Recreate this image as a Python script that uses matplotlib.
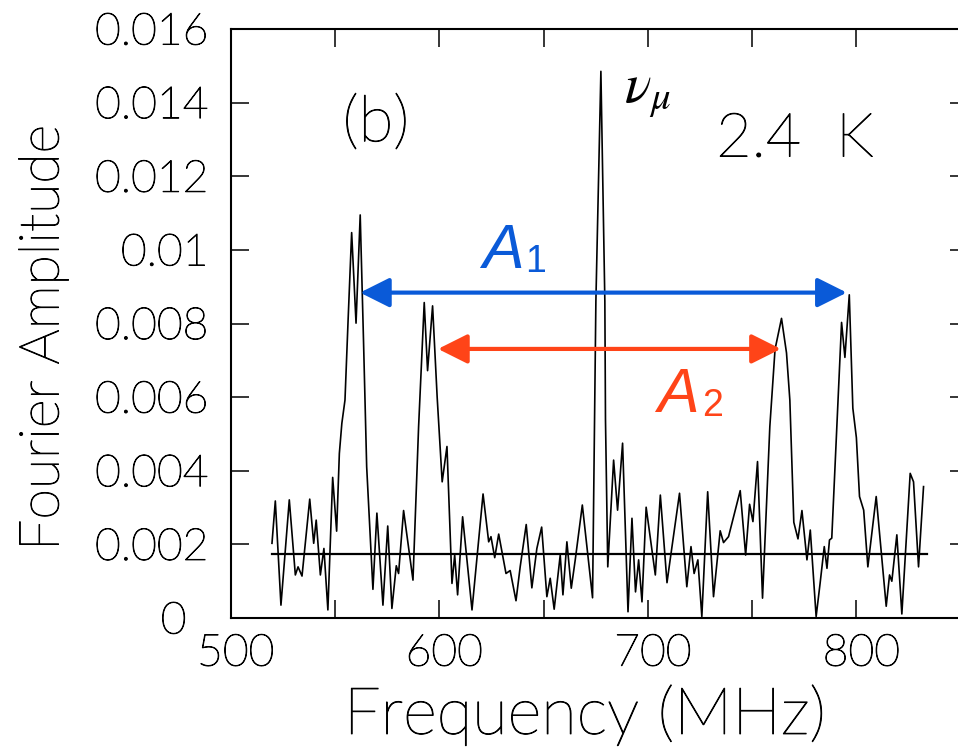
import matplotlib
matplotlib.use('Agg')
import matplotlib.pyplot as plt
import matplotlib.patheffects as pe
import matplotlib.transforms as mtrans
import numpy as np

# spectrum: frequency (MHz), amplitude (x 1e-3)
freq = [519.8, 521.4, 524.1, 528.1, 531.0, 532.3, 534.2, 537.9, 539.8, 541.0,
        543.0, 544.7, 546.6, 548.9, 550.8, 552.1, 553.3, 554.8, 556.3, 558.0,
        560.1, 562.1, 563.7, 565.2, 568.2, 570.1, 573.0, 575.3, 577.3, 579.4,
        580.5, 582.9, 587.4, 590.1, 592.8, 594.4, 596.8, 599.0, 601.4, 603.7,
        606.1, 607.4, 608.8, 611.2, 615.7, 621.0, 623.7, 624.8, 626.6, 628.5,
        632.0, 634.0, 636.8, 638.8, 641.7, 644.4, 646.8, 649.1, 651.6, 653.2,
        655.1, 658.0, 659.3, 661.2, 663.3, 665.2, 668.6, 673.5, 675.1, 677.5,
        679.4, 679.7, 680.8, 683.6, 685.5, 687.9, 690.5, 692.4, 694.1, 695.6,
        697.2, 699.2, 702.0, 703.6, 706.0, 709.2, 710.7, 715.2, 718.7, 720.7,
        722.2, 724.0, 725.9, 728.7, 731.5, 734.7, 736.3, 738.7, 744.3, 746.9,
        748.8, 750.4, 752.6, 755.0, 758.5, 761.0, 764.1, 766.5, 768.1, 770.0,
        772.0, 773.9, 776.3, 777.9, 780.7, 782.6, 784.6, 785.9, 787.1, 788.2,
        790.5, 792.9, 794.5, 796.6, 798.3, 800.0, 801.5, 803.5, 805.5, 809.5,
        814.3, 815.9, 817.0, 819.4, 821.8, 825.8, 827.4, 829.8, 832.2]
amp_m = [2.03, 3.18, 0.35, 3.21, 1.17, 1.39, 1.14, 3.23, 2.03, 2.66,
         1.17, 1.89, 0.22, 3.82, 2.36, 4.47, 5.29, 5.92, 8.10, 10.47,
         8.01, 10.95, 7.50, 4.11, 0.78, 2.85, 0.35, 2.50, 0.26, 1.42,
         1.21, 2.92, 1.03, 5.20, 8.57, 6.72, 8.48, 6.00, 3.70, 4.66,
         0.94, 1.71, 0.63, 2.75, 0.22, 3.37, 2.07, 2.21, 1.64, 2.28,
         1.21, 1.29, 0.47, 1.39, 2.54, 0.82, 1.89, 2.47, 0.58, 1.08,
         0.24, 1.71, 0.63, 2.07, 0.81, 1.58, 3.07, 0.55, 8.60, 14.85,
         8.60, 5.40, 1.39, 4.29, 2.93, 4.75, 0.17, 2.71, 0.71, 1.58,
         0.44, 3.01, 1.85, 1.17, 3.34, 0.96, 1.58, 3.39, 0.85, 1.94,
         1.21, 1.58, 0.04, 3.43, 0.58, 2.37, 2.05, 2.21, 3.46, 1.71,
         3.09, 2.62, 4.25, 0.54, 5.20, 7.30, 8.14, 7.20, 5.92, 2.60,
         2.15, 2.92, 1.58, 2.39, 0.04, 0.94, 1.94, 1.35, 2.12, 2.17,
         5.02, 8.03, 7.08, 8.78, 5.70, 4.90, 3.30, 2.93, 1.39, 3.30,
         0.32, 1.17, 1.00, 2.26, 0.11, 3.93, 3.70, 1.39, 3.57]

base_level = 0.00174
base_range = [519.8, 833.8]

# splittings
a1_ends = [562.0, 795.4]
a1_level = 0.00884
a2_ends = [599.4, 763.8]
a2_level = 0.00731

xticks = [500, 600, 700, 800]
xminor = [550, 650, 750, 850]
yticks = [0, 0.002, 0.004, 0.006, 0.008, 0.01, 0.012, 0.014, 0.016]
ytick_labels = ['0', '0.002', '0.004', '0.006', '0.008', '0.01', '0.012', '0.014', '0.016']

blue = '#0a5ad8'
red = '#ff4418'

plt.rcParams['font.family'] = ['Lato', 'DejaVu Sans']
plt.rcParams['font.weight'] = 'light'
plt.rcParams['mathtext.fontset'] = 'stix'

fig = plt.figure(figsize=(9.58, 7.56), dpi=100)
ax = fig.add_axes([0.2408, 0.1825, 0.7696, 0.7791])

amp = np.array(amp_m) * 1e-3
ax.plot(freq, amp, color='k', lw=1.2)
ax.plot(base_range, [base_level, base_level], color='k', lw=1.6)

ax.set_xlim(500, 853.5)
ax.set_ylim(0, 0.016)
ax.set_xticks(xticks)
ax.set_xticks(xminor, minor=True)
ax.set_yticks(yticks)
ax.set_yticklabels(ytick_labels)

for s in ax.spines.values():
    s.set_linewidth(1.5)
ax.tick_params(which='both', direction='in', length=12.7, width=1.1,
               top=True, right=True)
ax.tick_params(axis='x', labelsize=32, pad=12)
ax.tick_params(axis='y', labelsize=32, pad=16)

dark = [pe.withStroke(linewidth=0.7, foreground='k')]
shift = mtrans.ScaledTranslation(5 / 100, 0, fig.dpi_scale_trans)
for lab in ax.get_xticklabels():
    lab.set_transform(lab.get_transform() + shift)
    lab.set_path_effects(dark)
for lab in ax.get_yticklabels():
    lab.set_path_effects(dark)
# the "0" sits a little left of the others, clear of "500"
zero = ax.get_yticklabels()[0]
zero.set_transform(zero.get_transform() +
                   mtrans.ScaledTranslation(-22 / 100, 0, fig.dpi_scale_trans))

fig.text(43 / 958, 1 - 338 / 756, 'Fourier Amplitude', rotation=90,
         ha='center', va='center', fontsize=40, path_effects=dark)
fig.text(585 / 958, 1 - 715 / 756, 'Frequency (MHz)',
         ha='center', va='center', fontsize=47, path_effects=dark)

# arrows
ax.annotate('', xy=(a1_ends[1], a1_level), xytext=(a1_ends[0], a1_level),
            arrowprops=dict(arrowstyle='<|-|>,head_length=0.9,head_width=0.45',
                            mutation_scale=20, color=blue, lw=3,
                            shrinkA=0, shrinkB=0))
ax.annotate('', xy=(a2_ends[1], a2_level), xytext=(a2_ends[0], a2_level),
            arrowprops=dict(arrowstyle='<|-|>,head_length=0.9,head_width=0.45',
                            mutation_scale=20, color=red, lw=3,
                            shrinkA=0, shrinkB=0))

sans_it = dict(family='Liberation Sans', style='italic', weight='normal')
ax.text(620.5, 0.00951, 'A', color=blue, fontsize=45, ha='left', va='baseline', **sans_it)
ax.text(641.1, 0.00940, '1', color=blue, fontsize=27, ha='left', va='baseline',
        family='Liberation Sans')
ax.text(704.4, 0.00560, 'A', color=red, fontsize=45, ha='left', va='baseline', **sans_it)
ax.text(725.9, 0.00549, '2', color=red, fontsize=27, ha='left', va='baseline',
        family='Liberation Sans')

ax.text(569.7, 0.01342, '(b)', fontsize=46, ha='center', va='center', path_effects=dark)
ax.text(770.5, 0.0130, '2.4  K', fontsize=44, ha='center', va='center', path_effects=dark)
ax.text(688.5, 0.0140, r'$\nu_\mu$', fontsize=40, ha='left', va='baseline')

fig.savefig('out.png', dpi=100)
